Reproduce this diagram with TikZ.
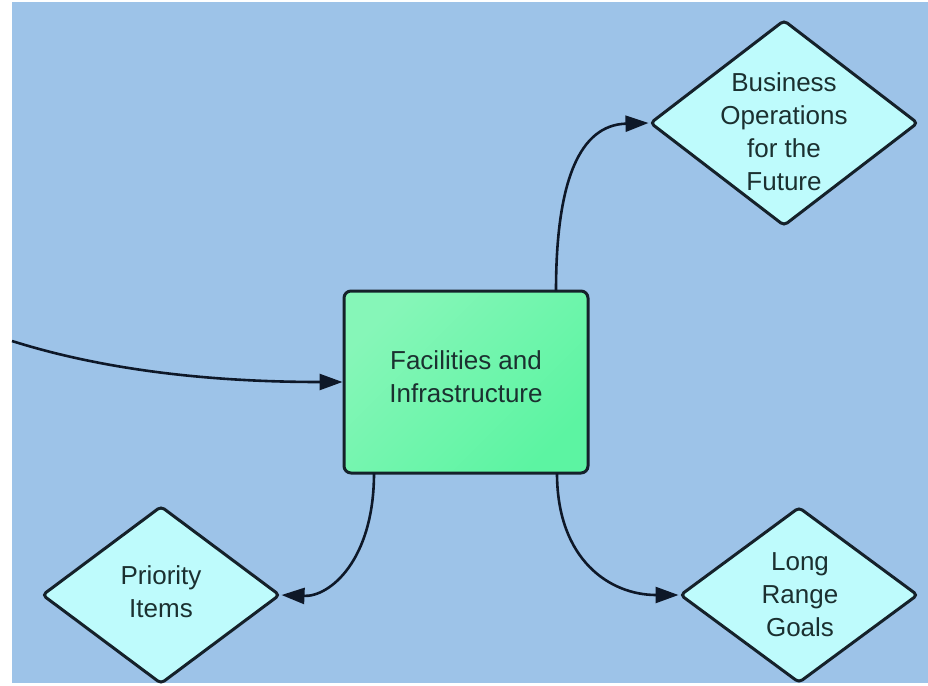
\documentclass[tikz,border=0pt]{standalone}
\usepackage{fontspec}
\setmainfont{Liberation Sans}
\usetikzlibrary{shapes.geometric,arrows.meta}
\definecolor{bgblue}{HTML}{9DC3E8}
\definecolor{dia}{HTML}{BEFBFC}
\definecolor{edge}{HTML}{15212A}
\definecolor{wire}{HTML}{0E1828}
\definecolor{txt}{HTML}{1B3030}
\definecolor{gA}{HTML}{86F6B8}
\definecolor{gB}{HTML}{5CF4A2}
\tikzset{
  decision/.style={shape=diamond, draw=edge, line width=3pt, fill=dia,
    rounded corners=4pt, inner sep=0pt},
  mainbox/.style={shape=rectangle, draw=edge, line width=3pt, rounded corners=7pt,
    left color=gA, right color=gB, shading angle=45, inner sep=0pt,
    minimum width=244pt, minimum height=182pt},
  label/.style={align=center, text=txt, inner sep=0pt,
    font=\fontsize{26pt}{33pt}\selectfont},
  link/.style={draw=wire, line width=2.6pt,
    -{Triangle[length=23pt,width=16pt]}}
}
\begin{document}
\begin{tikzpicture}[x=1pt,y=-1pt]
\useasboundingbox (0,0) rectangle (928,685);
\fill[white] (0,0) rectangle (928,685);
\fill[bgblue] (12,2) rectangle (928,683);

\node[mainbox] (fac) at (466,382) {};
\node[label] (factxt) at (466,377) {Facilities and\\Infrastructure};

\node[decision, minimum width=268pt, minimum height=206pt] (biz) at (784,123) {};
\node[label] (biztxt) at (784,132) {Business\\Operations\\for the\\Future};

\node[decision, minimum width=238pt, minimum height=178pt] (prio) at (161,595) {};
\node[label] (priotxt) at (161,592) {Priority\\Items};

\node[decision, minimum width=238pt, minimum height=176pt] (long) at (799,595) {};
\node[label] (longtxt) at (800,595) {Long\\Range\\Goals};

\coordinate (src) at (12,341);
\coordinate (ftop) at (556,291);
\coordinate (fbl) at (374,473);
\coordinate (fbr) at (557,473);

\draw[link] (src) .. controls (110,372) and (220,382) .. (fac.west);
\draw[link] (ftop) .. controls (556,180) and (580,125) .. (biz.west);
\draw[link] (fbl) .. controls (374,560) and (330,597) .. (prio.east);
\draw[link] (fbr) .. controls (557,560) and (610,595) .. (long.west);
\end{tikzpicture}
\end{document}
